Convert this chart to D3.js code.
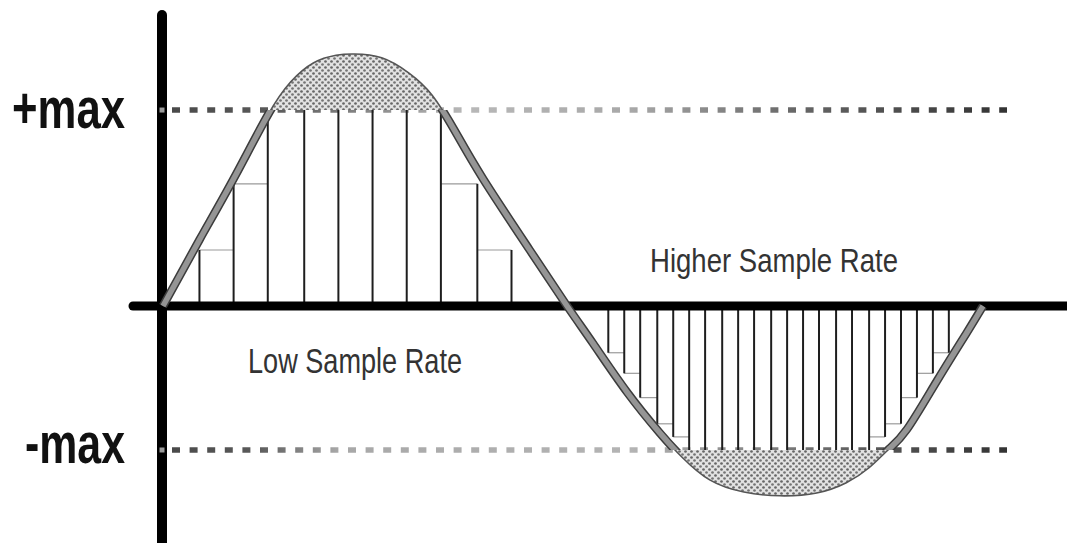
<!DOCTYPE html>
<html>
<head>
<meta charset="utf-8">
<script src="https://cdn.jsdelivr.net/npm/d3@7"></script>
<style>
  html, body { margin: 0; padding: 0; background: #fff; }
  svg { display: block; }
</style>
</head>
<body>
<svg id="chart" width="1067" height="543"></svg>
<script>
// ---------- data ----------
// wave: phase in degrees and relative amplitude
const waveDeg = [0, 16, 31, 46, 56, 66, 76, 84, 96, 108, 118, 128, 140.5, 161, 177.4,
                 188.8, 203.7, 218.2, 228, 240, 255, 271, 287, 300, 310, 318.3, 326.6, 339.8, 353, 360];
const waveVal = [0, 0.26, 0.50, 0.75, 0.88, 0.955, 0.985, 0.99, 0.975, 0.915, 0.83, 0.69, 0.50, 0.22, 0,
                 -0.20, -0.46, -0.68, -0.81, -0.93, -0.995, -1.015, -1.0, -0.945, -0.865, -0.77, -0.66, -0.40, -0.14, 0];
// low sample rate (first half)
const lowSampleDeg = [16, 31, 46, 62, 77, 92, 107, 122, 138, 153];
const lowSampleVal = [0.22, 0.48, 0.82, 0.93, 0.99, 1.0, 0.95, 0.80, 0.48, 0.22];
// higher sample rate (second half)
const highSampleDeg = [195.5, 202.5, 209.5, 217, 224, 231, 238, 245.5, 252.5, 259.5, 267, 274, 281, 288, 295.5, 302.5, 310, 317, 324, 331, 338, 345];
const highSampleVal = [-0.25, -0.36, -0.49, -0.63, -0.70, -0.80, -0.87, -0.93, -0.97, -0.99, -1.0, -1.0, -0.99, -0.97, -0.93, -0.87, -0.80, -0.70, -0.63, -0.49, -0.36, -0.25];
// clipping levels
const maxLevels = [0.77, -0.77];
const maxLabels = ["+max", "-max"];
const rateLabels = ["Low Sample Rate", "Higher Sample Rate"];

// ---------- scales ----------
const svg = d3.select("#chart");
const x = d3.scaleLinear().domain([0, 360]).range([163, 983]);
const y = d3.scaleLinear().domain([-1, 0, 1]).range([493, 306, 51.5]);
const maxTop = maxLevels[0], maxBot = maxLevels[1];
const clampV = v => Math.max(maxBot, Math.min(maxTop, v));

const wave = waveDeg.map((d, i) => [d, waveVal[i]]);
const curve = d3.curveNatural;

// ---------- defs ----------
const defs = svg.append("defs");
const pat = defs.append("pattern").attr("id", "dots").attr("patternUnits", "userSpaceOnUse")
  .attr("width", 6).attr("height", 6);
pat.append("rect").attr("width", 6).attr("height", 6).attr("fill", "#e2e2e2");
pat.append("circle").attr("cx", 1.5).attr("cy", 1.5).attr("r", 1.35).attr("fill", "#666");
pat.append("circle").attr("cx", 4.5).attr("cy", 4.5).attr("r", 1.35).attr("fill", "#747474");

defs.append("clipPath").attr("id", "clipTop").append("rect")
  .attr("x", 0).attr("y", 0).attr("width", 1067).attr("height", y(maxTop));
defs.append("clipPath").attr("id", "clipBot").append("rect")
  .attr("x", 0).attr("y", y(maxBot)).attr("width", 1067).attr("height", 543 - y(maxBot));
defs.append("clipPath").attr("id", "clipMid").append("rect")
  .attr("x", 0).attr("y", y(maxTop)).attr("width", 1067).attr("height", y(maxBot) - y(maxTop));

function grad(id, stops) {
  const g = defs.append("linearGradient").attr("id", id).attr("gradientUnits", "userSpaceOnUse")
    .attr("x1", 172).attr("x2", 1007).attr("y1", 0).attr("y2", 0);
  stops.forEach(s => g.append("stop").attr("offset", s[0]).attr("stop-color", s[1]));
}
grad("gTop", [[0, "#4a4a4a"], [0.12, "#5a5a5a"], [0.35, "#b8b8b8"], [0.55, "#a8a8a8"], [0.75, "#666"], [1, "#333"]]);
grad("gBot", [[0, "#4a4a4a"], [0.1, "#5a5a5a"], [0.2, "#a8a8a8"], [0.55, "#b4b4b4"], [0.85, "#555"], [1, "#333"]]);

// ---------- dashed max lines ----------
maxLevels.forEach((lv, i) => {
  svg.append("line")
    .attr("x1", 172).attr("x2", 1007)
    .attr("y1", y(lv)).attr("y2", y(lv))
    .attr("stroke", i === 0 ? "url(#gTop)" : "url(#gBot)")
    .attr("stroke-width", 5.5)
    .attr("stroke-dasharray", "8,9.6");
});

// ---------- clipped (dotted) regions ----------
const areaGen = d3.area().x(d => x(d[0])).y0(y(0)).y1(d => y(d[1])).curve(curve);
svg.append("path").datum(wave).attr("d", areaGen)
  .attr("fill", "url(#dots)").attr("clip-path", "url(#clipTop)");
svg.append("path").datum(wave).attr("d", areaGen)
  .attr("fill", "url(#dots)").attr("clip-path", "url(#clipBot)");

// ---------- sample bars ----------
function drawSamples(degs, vals) {
  const g = svg.append("g");
  const pts = degs.map((d, i) => ({ d, v: vals[i] }));
  // horizontal hold lines
  for (let i = 0; i < pts.length - 1; i++) {
    const a = clampV(pts[i].v), b = clampV(pts[i + 1].v);
    if (Math.abs(a) >= maxTop && Math.abs(b) >= maxTop) continue;
    const lv = Math.abs(a) < Math.abs(b) ? a : b;
    g.append("line")
      .attr("x1", x(pts[i].d)).attr("x2", x(pts[i + 1].d))
      .attr("y1", y(lv)).attr("y2", y(lv))
      .attr("stroke", "#9a9a9a").attr("stroke-width", 1.2);
  }
  g.selectAll("line.v").data(pts).join("line").attr("class", "v")
    .attr("x1", p => x(p.d)).attr("x2", p => x(p.d))
    .attr("y1", p => p.v > 0 ? y(0) - 4 : y(0) + 4)
    .attr("y2", p => y(clampV(p.v)))
    .attr("stroke", "#1e1e1e").attr("stroke-width", 2);
}
drawSamples(lowSampleDeg, lowSampleVal);
drawSamples(highSampleDeg, highSampleVal);

// ---------- axes ----------
svg.append("line").attr("x1", 133).attr("x2", 1067).attr("y1", y(0)).attr("y2", y(0))
  .attr("stroke", "#000").attr("stroke-width", 9).attr("stroke-linecap", "round");
svg.append("line").attr("x1", 162).attr("x2", 162).attr("y1", 15).attr("y2", 560)
  .attr("stroke", "#000").attr("stroke-width", 10).attr("stroke-linecap", "round");
maxLevels.forEach(lv => {
  svg.append("rect").attr("x", 159.5).attr("y", y(lv) - 2.5).attr("width", 5).attr("height", 5)
    .attr("fill", "#9a9a9a");
});

// ---------- the wave ----------
const lineGen = d3.line().x(d => x(d[0])).y(d => y(d[1])).curve(curve);
// thin outline over the clipped parts
svg.append("path").datum(wave).attr("d", lineGen).attr("fill", "none")
  .attr("stroke", "#555").attr("stroke-width", 1.6);
// thick grey band between the max lines
const mid = svg.append("g").attr("clip-path", "url(#clipMid)");
mid.append("path").datum(wave).attr("d", lineGen).attr("fill", "none")
  .attr("stroke", "#3c3c3c").attr("stroke-width", 8.5);
mid.append("path").datum(wave).attr("d", lineGen).attr("fill", "none")
  .attr("stroke", "#959595").attr("stroke-width", 5.5);

// ---------- labels ----------
const fam = "'Liberation Sans Narrow', 'Liberation Sans', Arial, sans-serif";
svg.append("text").text(maxLabels[0]).attr("x", 12).attr("y", 128)
  .attr("font-family", fam).attr("font-size", 58).attr("font-weight", "bold").attr("fill", "#111")
  .attr("textLength", 113).attr("lengthAdjust", "spacingAndGlyphs");
svg.append("text").text(maxLabels[1]).attr("x", 25).attr("y", 463)
  .attr("font-family", fam).attr("font-size", 58).attr("font-weight", "bold").attr("fill", "#111")
  .attr("textLength", 100).attr("lengthAdjust", "spacingAndGlyphs");
svg.append("text").text(rateLabels[0]).attr("x", 248).attr("y", 373)
  .attr("font-family", fam).attr("font-size", 35).attr("fill", "#333")
  .attr("textLength", 214).attr("lengthAdjust", "spacingAndGlyphs");
svg.append("text").text(rateLabels[1]).attr("x", 650).attr("y", 272)
  .attr("font-family", fam).attr("font-size", 34).attr("fill", "#333")
  .attr("textLength", 248).attr("lengthAdjust", "spacingAndGlyphs");
</script>
</body>
</html>
